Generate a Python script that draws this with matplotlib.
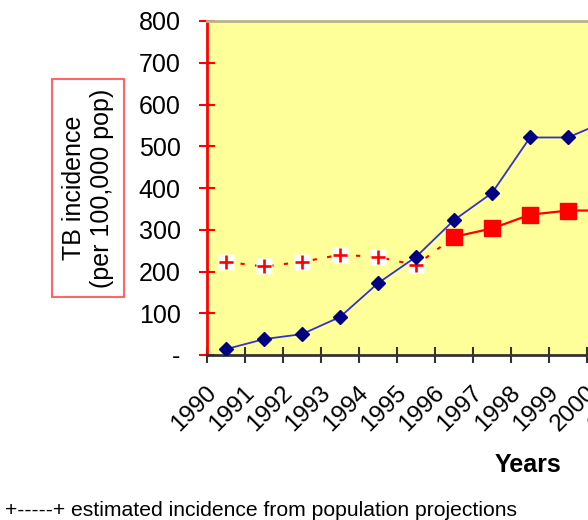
import numpy as np
import matplotlib
matplotlib.use('Agg')
import matplotlib.pyplot as plt
from matplotlib.transforms import ScaledTranslation

plt.rcParams['font.family'] = ['Liberation Sans', 'DejaVu Sans']

# --- data ---
years = ['1990', '1991', '1992', '1993', '1994', '1995', '1996',
         '1997', '1998', '1999', '2000', '2001']
notified = [14, 38, 50, 91, 172, 235, 323, 388, 521, 521, 560]          # blue diamonds
estimated = [223, 212, 223, 240, 235, 215, 283]                         # red crosses (dotted)
reported = [None] * 6 + [283, 303, 336, 346, 346]                       # red squares

n = len(years)
xpos = np.arange(n)

fig = plt.figure(figsize=(5.88, 5.2), dpi=100)
ax = fig.add_axes([207 / 588, 1 - 355 / 520, 38 * n / 588, 334 / 520])
ax.set_facecolor('#FFFF99')

# estimated incidence: dotted red line with crosses on white squares
xe = xpos[:len(estimated)]
ax.plot(xe, estimated, color='red', lw=1.5, ls=(0, (2, 5)), zorder=2)
ax.plot(xe[:-1], estimated[:-1], ls='none', marker='s', ms=11,
        mfc='white', mec='none', zorder=3)
ax.plot(xe[:-1], estimated[:-1], ls='none', marker='+', ms=10,
        mew=1.9, color='red', zorder=4)

# reported incidence: red squares
xr = [x for x, v in zip(xpos, reported) if v is not None]
yr = [v for v in reported if v is not None]
ax.plot(xr, yr, color='red', lw=1.6, marker='s', ms=11, mec='red', zorder=5)

# notification rate: blue diamonds
xn = xpos[:len(notified)]
ax.plot(xn, notified, color='#3333CC', lw=1.3, marker='D', ms=7,
        mfc='#000080', mec='#000080', zorder=6)

ax.set_xlim(-0.5, n - 0.5)
ax.set_ylim(0, 800)

# y axis
ax.set_yticks(np.arange(0, 801, 100))
ax.set_yticklabels(['-'] + [str(v) for v in range(100, 801, 100)])
ax.tick_params(axis='y', direction='inout', length=12, width=1.5,
               color='red', labelsize=18, pad=13)

# x axis: ticks between categories, labels under categories
ax.set_xticks(np.arange(-0.5, n, 1))
ax.set_xticklabels([])
ax.tick_params(axis='x', which='major', direction='inout', length=11,
               width=1.5, color='#333333')
ax.set_xticks(xpos, minor=True)
ax.set_xticklabels(years, minor=True, rotation=45, ha='right', va='top',
                   rotation_mode='anchor', fontsize=17.5)
ax.tick_params(axis='x', which='minor', length=0, pad=19)
for lbl in ax.get_xticklabels(minor=True):
    lbl.set_transform(lbl.get_transform() +
                      ScaledTranslation(-21 / 100, 0, fig.dpi_scale_trans))

ax.spines['left'].set_color('red')
ax.spines['left'].set_linewidth(2)
ax.spines['bottom'].set_color('#333333')
ax.spines['bottom'].set_linewidth(2)
ax.spines['top'].set_color('#B8B48A')
ax.spines['top'].set_linewidth(2)
ax.spines['right'].set_visible(False)

# boxed y label
fig.text(88 / 588, 1 - 188 / 520, 'TB incidence\n(per 100,000 pop)',
         rotation=90, ha='center', va='center', fontsize=18,
         linespacing=1.25,
         bbox=dict(boxstyle='square,pad=0.38', fc='white', ec='#FF6666', lw=1.5))

fig.text(528 / 588, 1 - 465 / 520, 'Years', ha='center', va='center',
         fontsize=18, fontweight='bold')

fig.text(5 / 588, 1 - 510 / 520,
         '+-----+ estimated incidence from population projections',
         ha='left', va='center', fontsize=15.2)

fig.savefig('out.png', dpi=100)
